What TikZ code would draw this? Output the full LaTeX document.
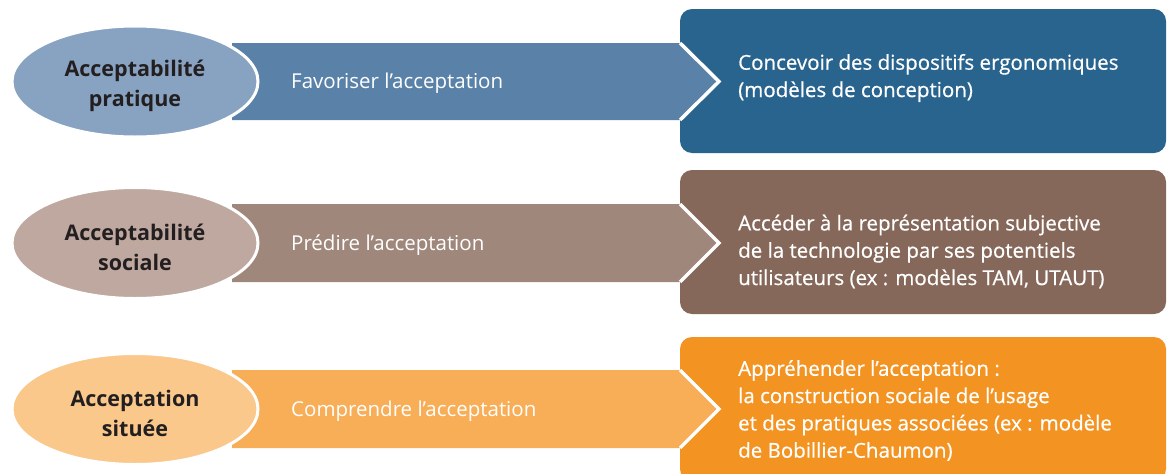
\documentclass[tikz,border=0pt]{standalone}
\usepackage{fontspec}
\setmainfont{Open Sans}
\newfontfamily\medfont[FakeBold=0.6]{Open Sans}
\usetikzlibrary{shapes.geometric}

% row palettes: light (ellipse), mid (band), dark (box)
\definecolor{bluelight}{HTML}{88A3C2}
\definecolor{bluemid}{HTML}{5A82A9}
\definecolor{bluedark}{HTML}{29648F}
\definecolor{brownlight}{HTML}{BFA89F}
\definecolor{brownmid}{HTML}{A0877B}
\definecolor{browndark}{HTML}{86685A}
\definecolor{orangelight}{HTML}{FBC88C}
\definecolor{orangemid}{HTML}{F8AD57}
\definecolor{orangedark}{HTML}{F39321}
\definecolor{inkdark}{HTML}{231F20}

\tikzset{
  levelbox/.style={rectangle, rounded corners=12pt, minimum width=486pt,
    minimum height=144pt, inner sep=0pt, draw=none},
  bandshape/.style={draw=white, line width=3.5pt, line join=miter},
  levelellipse/.style={ellipse, minimum width=246pt, minimum height=111pt,
    inner sep=0pt, draw=white, line width=3pt},
  ellipsetext/.style={text=inkdark, inner sep=0pt, align=center,
    font=\fontsize{21.5}{30}\selectfont\bfseries},
  bandtext/.style={anchor=west, text=white, inner sep=0pt, yshift=-2pt,
    font=\fontsize{20.5}{24}\selectfont},
  boxtext/.style={anchor=west, text=white, inner sep=0pt, align=left,
    yshift=-2pt, font=\fontsize{20.5}{27.3}\medfont}
}

\begin{document}
\begin{tikzpicture}[x=1pt, y=-1pt]
\useasboundingbox (0,0) rectangle (1168,474);

% ---------- row 1: acceptabilite pratique ----------
\node[levelbox, fill=bluedark] (box1) at (923,81) {};
\coordinate (b1tl) at (232,43);
\coordinate (b1tr) at (680,43);
\coordinate (b1tip) at (719,81.5);
\coordinate (b1br) at (680,120);
\coordinate (b1bl) at (232,120);
\fill[bluemid] (b1tl) -- (b1tr) -- (b1tip) -- (b1br) -- (b1bl) -- cycle;
\draw[bandshape] (b1tr) -- (b1tip) -- (b1br);
\node[levelellipse, fill=bluelight] (ell1) at (135,81.5) {};
\node[ellipsetext] (lab1) at (135,86) {Acceptabilité\\pratique};
\node[bandtext] (band1) at (291,81.5) {Favoriser l’acceptation};
\node[boxtext] (txt1) at (738,76) {Concevoir des dispositifs ergonomiques\\(modèles de conception)};

% ---------- row 2: acceptabilite sociale ----------
\node[levelbox, fill=browndark] (box2) at (923,242) {};
\coordinate (b2tl) at (232,204);
\coordinate (b2tr) at (680,204);
\coordinate (b2tip) at (719,243);
\coordinate (b2br) at (680,282);
\coordinate (b2bl) at (232,282);
\fill[brownmid] (b2tl) -- (b2tr) -- (b2tip) -- (b2br) -- (b2bl) -- cycle;
\draw[bandshape] (b2tr) -- (b2tip) -- (b2br);
\node[levelellipse, fill=brownlight] (ell2) at (135,243) {};
\node[ellipsetext] (lab2) at (135,247.5) {Acceptabilité\\sociale};
\node[bandtext] (band2) at (291,243) {Prédire l’acceptation};
\node[boxtext] (txt2) at (738,249.5) {Accéder à la représentation subjective\\de la technologie par ses potentiels\\utilisateurs (ex : modèles TAM, UTAUT)};

% ---------- row 3: acceptation situee ----------
\node[levelbox, fill=orangedark] (box3) at (923,409) {};
\coordinate (b3tl) at (232,370);
\coordinate (b3tr) at (680,370);
\coordinate (b3tip) at (719,409);
\coordinate (b3br) at (680,448);
\coordinate (b3bl) at (232,448);
\fill[orangemid] (b3tl) -- (b3tr) -- (b3tip) -- (b3br) -- (b3bl) -- cycle;
\draw[bandshape] (b3tr) -- (b3tip) -- (b3br);
\node[levelellipse, fill=orangelight] (ell3) at (135,409) {};
\node[ellipsetext] (lab3) at (135,413.5) {Acceptation\\située};
\node[bandtext] (band3) at (291,409) {Comprendre l’acceptation};
\node[boxtext] (txt3) at (738,408.5) {Appréhender l’acceptation :\\la construction sociale de l’usage\\et des pratiques associées (ex : modèle\\de Bobillier-Chaumon)};
\end{tikzpicture}
\end{document}
